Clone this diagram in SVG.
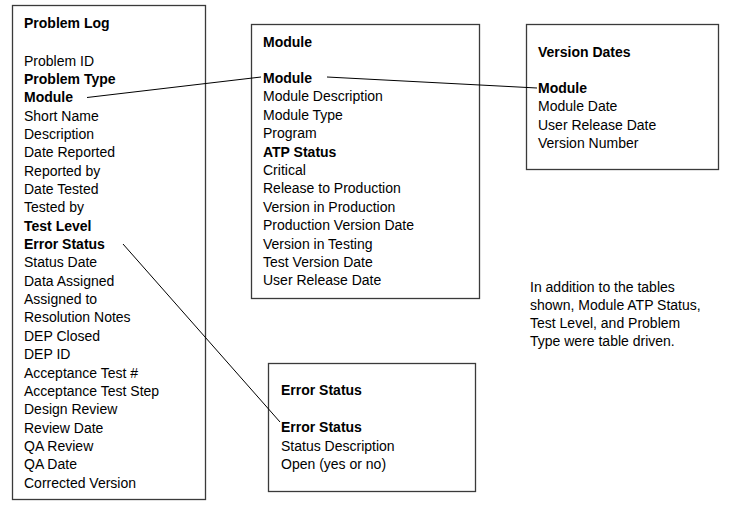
<svg xmlns="http://www.w3.org/2000/svg" width="729" height="513" viewBox="0 0 729 513">
<style>
text{font-family:"Liberation Sans",Arial,sans-serif;font-size:14px;fill:#000}
.b{font-weight:bold}
.box{fill:#fff;stroke:#3a3a3a;stroke-width:1.3}
.con{stroke:#000;stroke-width:1;fill:none}
</style>
<rect width="729" height="513" fill="#fff"/>
<g id="problem-log">
<rect class="box" x="12.5" y="5.5" width="193" height="494"/>
<text class="b" x="24" y="28">Problem Log</text>
<text x="24" y="65.5">Problem ID</text>
<text class="b" x="24" y="83.9">Problem Type</text>
<text class="b" x="24" y="102.2">Module</text>
<text x="24" y="120.6">Short Name</text>
<text x="24" y="138.9">Description</text>
<text x="24" y="157.3">Date Reported</text>
<text x="24" y="175.6">Reported by</text>
<text x="24" y="194">Date Tested</text>
<text x="24" y="212.3">Tested by</text>
<text class="b" x="24" y="230.7">Test Level</text>
<text class="b" x="24" y="249">Error Status</text>
<text x="24" y="267.4">Status Date</text>
<text x="24" y="285.7">Data Assigned</text>
<text x="24" y="304.1">Assigned to</text>
<text x="24" y="322.4">Resolution Notes</text>
<text x="24" y="340.8">DEP Closed</text>
<text x="24" y="359.1">DEP ID</text>
<text x="24" y="377.5">Acceptance Test #</text>
<text x="24" y="395.8">Acceptance Test Step</text>
<text x="24" y="414.2">Design Review</text>
<text x="24" y="432.5">Review Date</text>
<text x="24" y="450.9">QA Review</text>
<text x="24" y="469.2">QA Date</text>
<text x="24" y="487.6">Corrected Version</text>
</g>
<g id="module">
<rect class="box" x="251.5" y="24.5" width="228" height="274"/>
<text class="b" x="263" y="47">Module</text>
<text class="b" x="263" y="83">Module</text>
<text x="263" y="101.4">Module Description</text>
<text x="263" y="119.8">Module Type</text>
<text x="263" y="138.2">Program</text>
<text class="b" x="263" y="156.6">ATP Status</text>
<text x="263" y="175">Critical</text>
<text x="263" y="193.4">Release to Production</text>
<text x="263" y="211.8">Version in Production</text>
<text x="263" y="230.2">Production Version Date</text>
<text x="263" y="248.6">Version in Testing</text>
<text x="263" y="267">Test Version Date</text>
<text x="263" y="285.4">User Release Date</text>
</g>
<g id="version-dates">
<rect class="box" x="526.5" y="24.5" width="192" height="145"/>
<text class="b" x="538" y="56.5">Version Dates</text>
<text class="b" x="538" y="93">Module</text>
<text x="538" y="111.3">Module Date</text>
<text x="538" y="129.6">User Release Date</text>
<text x="538" y="147.9">Version Number</text>
</g>
<g id="error-status">
<rect class="box" x="268.5" y="363.5" width="207" height="128"/>
<text class="b" x="281" y="395">Error Status</text>
<text class="b" x="281" y="432">Error Status</text>
<text x="281" y="450.5">Status Description</text>
<text x="281" y="469">Open (yes or no)</text>
</g>
<g id="note">
<text x="530" y="292">In addition to the tables</text>
<text x="530" y="310">shown, Module ATP Status,</text>
<text x="530" y="328">Test Level, and Problem</text>
<text x="530" y="346">Type were table driven.</text>
</g>
<g id="connectors">
<line class="con" x1="87" y1="97.5" x2="261" y2="77"/>
<line class="con" x1="327" y1="77" x2="537" y2="88"/>
<line class="con" x1="123" y1="244" x2="280" y2="422"/>
</g>
</svg>
